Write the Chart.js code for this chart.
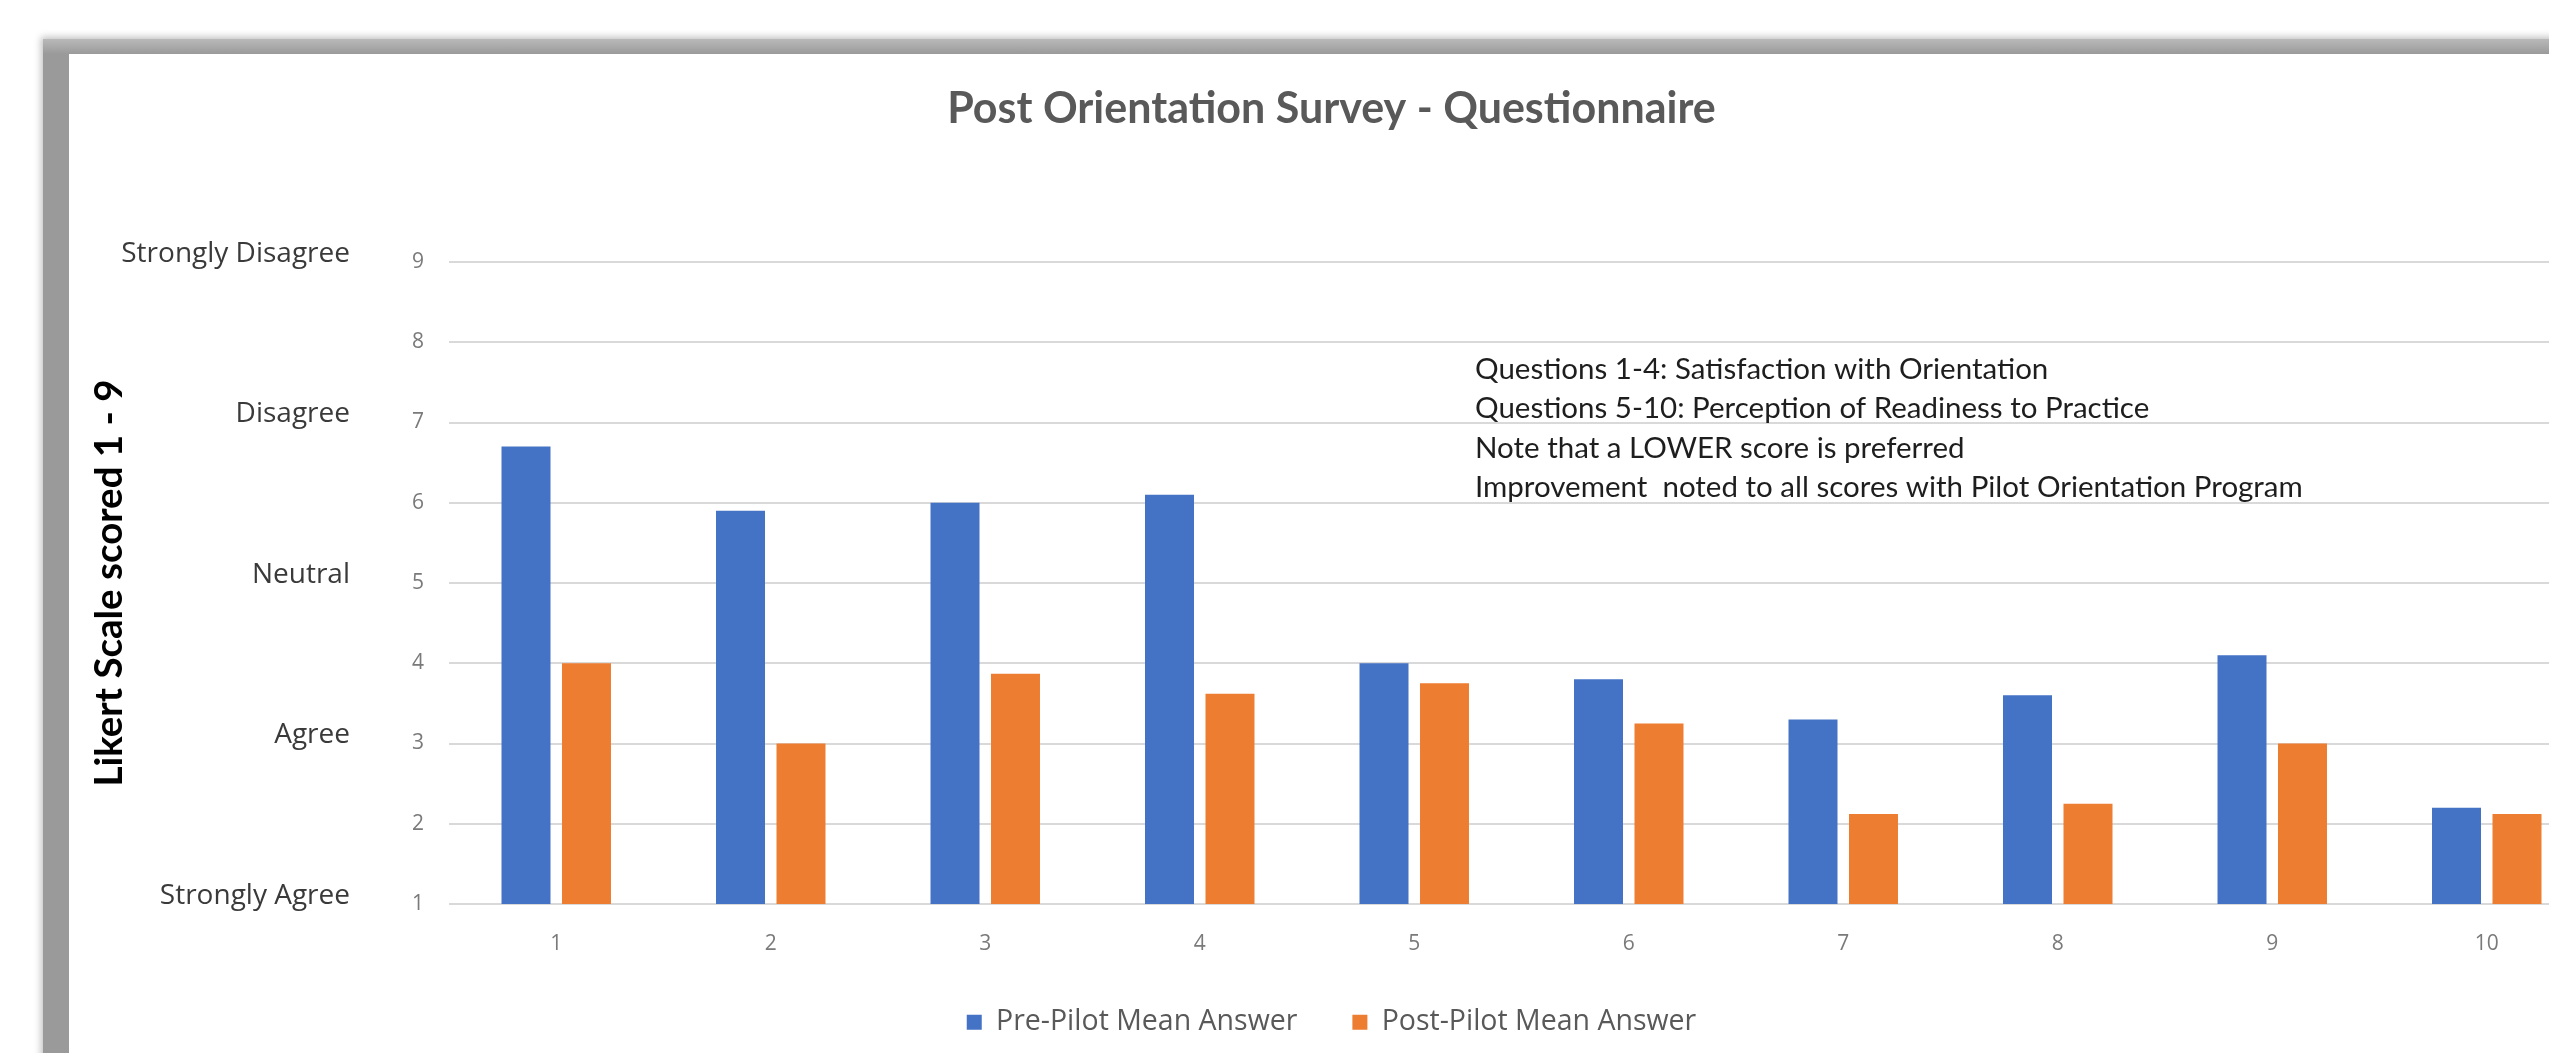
<!DOCTYPE html>
<html>
<head>
<meta charset="utf-8">
<script src="https://cdn.jsdelivr.net/npm/chart.js@4"></script>
<style>
  html, body { margin: 0; padding: 0; background: #fff; overflow: hidden; width: 2549px; height: 1053px; }
  #frame { position: absolute; left: 43px; top: 39px; width: 2700px; height: 1200px; background: linear-gradient(to bottom, #b9b9b9 0px, #9a9a9a 15px); box-shadow: 0 0 7px 2px rgba(0,0,0,0.25); }
  #box { position: absolute; left: 69px; top: 54px; width: 2700px; height: 1200px; background: #fff; }
  #myChart { position: absolute; left: 69px; top: 54px; }
</style>
</head>
<body>
<div id="frame"></div>
<div id="box"></div>
<canvas id="myChart" width="2528" height="999"></canvas>
<script>
var categories = ['1', '2', '3', '4', '5', '6', '7', '8', '9', '10'];
var prePilot = [6.7, 5.9, 6.0, 6.1, 4.0, 3.8, 3.3, 3.6, 4.1, 2.2];
var postPilot = [4.0, 3.0, 3.87, 3.62, 3.75, 3.25, 2.12, 2.25, 3.0, 2.12];
var likertLabels = ['Strongly Agree', 'Agree', 'Neutral', 'Disagree', 'Strongly Disagree'];
var noteLines = [
    'Questions 1-4: Satisfaction with Orientation',
    'Questions 5-10: Perception of Readiness to Practice',
    'Note that a LOWER score is preferred',
    'Improvement  noted to all scores with Pilot Orientation Program'
];

// draws the note text in the plot area
var notesPlugin = {
    id: 'notes',
    afterDraw: function (chart) {
        var c = chart.ctx;
        var area = chart.chartArea;
        c.save();
        c.font = '29.5px Lato';
        c.fillStyle = '#1e1e1e';
        c.textBaseline = 'middle';
        noteLines.forEach(function (line, i) {
            c.fillText(line, area.left + 1026, area.top + 107 + i * 39.5);
        });
        c.restore();
    }
};

var ctx = document.getElementById('myChart').getContext('2d');
var chart = new Chart(ctx, {
    type: 'bar',
    data: {
        labels: categories,
        datasets: [{
            label: 'Pre-Pilot Mean Answer',
            backgroundColor: '#4472C4',
            data: prePilot
        }, {
            label: 'Post-Pilot Mean Answer',
            backgroundColor: '#ED7D31',
            data: postPilot
        }]
    },
    options: {
        responsive: false,
        animation: false,
        devicePixelRatio: 1,
        layout: { padding: { left: 0, right: 3, top: 0, bottom: 6.5 } },
        datasets: { bar: { categoryPercentage: 0.564, barPercentage: 0.81 } },
        plugins: {
            title: {
                display: true,
                text: 'Post Orientation Survey - Questionnaire',
                color: '#595959',
                font: { family: 'Lato', size: 43, weight: 'bold' },
                padding: { top: 29.2, bottom: 127.2 }
            },
            legend: {
                position: 'bottom',
                labels: {
                    color: '#595959',
                    font: { family: 'Open Sans', size: 28.5 },
                    boxWidth: 15,
                    boxHeight: 15,
                    padding: 55
                }
            },
            tooltip: { enabled: false }
        },
        scales: {
            x: {
                grid: { display: false, drawTicks: false },
                border: { display: false },
                ticks: { color: '#7a7a7a', font: { family: 'Open Sans', size: 21 }, padding: 27 },
                afterFit: function (scale) { scale.height = 49; }
            },
            y: {
                position: 'left',
                weight: 0,
                min: 1,
                max: 9,
                grid: { color: '#d9d9d9', lineWidth: 2, drawTicks: false },
                border: { display: false },
                ticks: { stepSize: 1, color: '#7a7a7a', font: { family: 'Open Sans', size: 21 }, padding: 25 },
                afterFit: function (scale) { scale.width = 45; }
            },
            yLabel: {
                type: 'linear',
                position: 'left',
                weight: 1,
                min: 1,
                max: 9,
                grid: { display: false, drawTicks: false },
                border: { display: false },
                title: {
                    display: true,
                    text: 'Likert Scale scored 1 - 9',
                    color: '#000',
                    font: { family: 'Lato', size: 38.5, weight: 'bold' },
                    padding: { top: 17, bottom: 0 }
                },
                ticks: {
                    stepSize: 2,
                    color: '#3a3a3a',
                    font: { family: 'Open Sans', size: 28 },
                    padding: 54,
                    labelOffset: -8,
                    callback: function (value, index) { return likertLabels[index]; }
                },
                afterFit: function (scale) { scale.width = 335; }
            }
        }
    },
    plugins: [notesPlugin]
});
</script>
</body>
</html>
